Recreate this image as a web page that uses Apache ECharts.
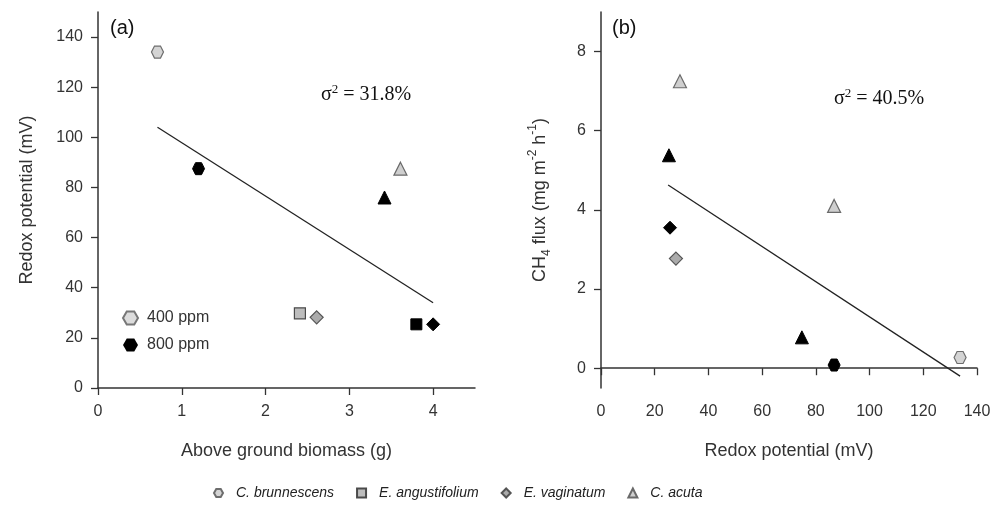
<!DOCTYPE html>
<html>
<head>
<meta charset="utf-8">
<script src="https://cdn.jsdelivr.net/npm/echarts@6/dist/echarts.min.js"></script>
<style>
  html, body { margin: 0; padding: 0; background: #fff; }
</style>
</head>
<body>
<div id="chart" style="width:1007px;height:520px;"></div>
<script>
// species names (bottom legend)
const species = ['C. brunnescens', 'E. angustifolium', 'E. vaginatum', 'C. acuta']

// panel (a): [above ground biomass (g), redox potential (mV), CO2 ppm]
const aBrunnescens = [[0.71, 134, 400], [1.2, 87.5, 800]]
const aAngustifolium = [[2.41, 29.8, 400], [3.8, 25.4, 800]]
const aVaginatum = [[2.61, 28.2, 400], [4.0, 25.4, 800]]
const aAcuta = [[3.61, 87.5, 400], [3.42, 76, 800]]
const aFit = [[0.71, 104], [4.0, 34]]

// panel (b): [redox potential (mV), CH4 flux, CO2 ppm]
const bBrunnescens = [[133.7, 0.27, 400], [86.8, 0.08, 800]]
const bVaginatum = [[27.9, 2.77, 400], [25.7, 3.55, 800]]
const bAcuta = [[29.4, 7.25, 400], [86.8, 4.1, 400], [25.3, 5.38, 800], [74.8, 0.78, 800]]
const bFit = [[25, 4.63], [133.7, -0.2]]

// tick labels
const aXTicks = [0, 1, 2, 3, 4]
const aYTicks = [0, 20, 40, 60, 80, 100, 120, 140]
const bXTicks = [0, 20, 40, 60, 80, 100, 120, 140]
const bYTicks = [0, 2, 4, 6, 8]

const hexagon = 'path://M-0.5,-0.866 L0.5,-0.866 L1,0 L0.5,0.866 L-0.5,0.866 L-1,0 Z'
const symbols = [hexagon, 'rect', 'diamond', 'triangle']
const sizes = [12, 11, 13, 13]
const grayFill = ['#d4d4d4', '#bdbdbd', '#ababab', '#cfcfcf']
const grayEdge = ['#6d6d6d', '#4a4a4a', '#555555', '#6a6a6a']

function points (rows, k) {
  return rows.map(r => ({
    value: [r[0], r[1]],
    itemStyle: r[2] === 400
      ? { color: grayFill[k], borderColor: grayEdge[k], borderWidth: 1.2, opacity: 1 }
      : { color: '#000', borderColor: '#000', borderWidth: 1, opacity: 1 }
  }))
}

function scatter (name, rows, k, idx) {
  return {
    name: name,
    type: 'scatter',
    xAxisIndex: idx,
    yAxisIndex: idx,
    symbol: symbols[k],
    symbolSize: sizes[k],
    itemStyle: { color: grayFill[k], borderColor: grayEdge[k], borderWidth: 1.2, opacity: 1 },
    data: points(rows, k),
    z: 3
  }
}

function fitLine (rows, idx) {
  return {
    type: 'line',
    xAxisIndex: idx,
    yAxisIndex: idx,
    showSymbol: false,
    silent: true,
    lineStyle: { color: '#222', width: 1.3 },
    data: rows
  }
}

const axisLine = { show: true, lineStyle: { color: '#333', width: 1.5 } }
const axisTickX = { show: true, length: 7, lineStyle: { color: '#333', width: 1.3 } }
const labelStyle = { color: '#333', fontSize: 16, fontFamily: 'Liberation Sans' }
const nameStyle = { color: '#333', fontSize: 18, fontFamily: 'Liberation Sans' }

function xAxis (idx, max, ticks, name) {
  return {
    type: 'value', gridIndex: idx, min: 0, max: max,
    axisLine: axisLine,
    axisTick: Object.assign({ customValues: ticks }, axisTickX),
    axisLabel: Object.assign({ customValues: ticks, margin: 16 }, labelStyle),
    splitLine: { show: false },
    name: name, nameLocation: 'middle', nameGap: 54, nameTextStyle: nameStyle
  }
}

function yAxis (idx, min, max, ticks, name, gap, rich) {
  return {
    type: 'value', gridIndex: idx, min: min, max: max,
    axisLine: axisLine,
    axisTick: Object.assign({ customValues: ticks }, axisTickX),
    axisLabel: Object.assign({ customValues: ticks, margin: 15 }, labelStyle),
    splitLine: { show: false },
    name: name, nameLocation: 'middle', nameRotate: 90, nameGap: gap,
    nameTextStyle: Object.assign({ rich: rich || {} }, nameStyle)
  }
}

const richName = {
  sub: { fontSize: 12, fontFamily: 'Liberation Sans', color: '#333', verticalAlign: 'bottom', lineHeight: 26 },
  sup: { fontSize: 12, fontFamily: 'Liberation Sans', color: '#333', verticalAlign: 'top', lineHeight: 26 },
  n: { fontSize: 18, fontFamily: 'Liberation Sans', color: '#333', lineHeight: 26 }
}

const ppmSeries = [
  { name: '400 ppm', type: 'scatter', symbol: hexagon, itemStyle: { color: '#dcdcdc', borderColor: '#777', borderWidth: 1.5, opacity: 1 }, data: [] },
  { name: '800 ppm', type: 'scatter', symbol: hexagon, itemStyle: { color: '#000', borderColor: '#000', opacity: 1 }, data: [] }
]

const sigmaRich = { s: { fontSize: 13, verticalAlign: 'top', lineHeight: 24, fontFamily: 'Liberation Serif', fill: '#111' } }

const chart = echarts.init(document.getElementById('chart'))
chart.setOption({
  backgroundColor: '#fff',
  animation: false,
  grid: [
    { left: 98, top: 12, width: 377, height: 376 },
    { left: 601, top: 12, width: 376, height: 376 }
  ],
  xAxis: [
    xAxis(0, 4.5, aXTicks, 'Above ground biomass (g)'),
    xAxis(1, 140, bXTicks, 'Redox potential (mV)')
  ],
  yAxis: [
    yAxis(0, 0, 150, aYTicks, 'Redox potential (mV)', 62),
    yAxis(1, -0.5, 9, bYTicks, '{n|CH}{sub|4}{n| flux (mg m}{sup|-2}{n| h}{sup|-1}{n|)}', 48, richName)
  ],
  legend: [
    {
      data: species,
      left: 208, top: 481,
      itemWidth: 9, itemHeight: 9, itemGap: 22,
      textStyle: { fontSize: 14, fontStyle: 'italic', color: '#222', fontFamily: 'Liberation Sans', padding: [0, 0, 0, 8] },
      selectedMode: false
    },
    {
      data: ['400 ppm', '800 ppm'],
      orient: 'vertical',
      left: 117, top: 305,
      itemWidth: 15, itemHeight: 15, itemGap: 11,
      textStyle: { fontSize: 16, color: '#333', fontFamily: 'Liberation Sans', padding: [0, 0, 0, 4] },
      selectedMode: false
    }
  ],
  graphic: [
    { type: 'text', left: 110, top: 18, style: { text: '(a)', fontSize: 20, fill: '#111', fontFamily: 'Liberation Sans' } },
    { type: 'text', left: 612, top: 18, style: { text: '(b)', fontSize: 20, fill: '#111', fontFamily: 'Liberation Sans' } },
    {
      type: 'text', left: 321, top: 83,
      style: { text: 'σ{s|2} = 31.8%', fontSize: 20, lineHeight: 24, fill: '#111', fontFamily: 'Liberation Serif', rich: sigmaRich }
    },
    {
      type: 'text', left: 834, top: 87,
      style: { text: 'σ{s|2} = 40.5%', fontSize: 20, lineHeight: 24, fill: '#111', fontFamily: 'Liberation Serif', rich: sigmaRich }
    }
  ],
  series: [
    scatter(species[0], aBrunnescens, 0, 0),
    scatter(species[1], aAngustifolium, 1, 0),
    scatter(species[2], aVaginatum, 2, 0),
    scatter(species[3], aAcuta, 3, 0),
    fitLine(aFit, 0),
    scatter(species[0], bBrunnescens, 0, 1),
    scatter(species[2], bVaginatum, 2, 1),
    scatter(species[3], bAcuta, 3, 1),
    fitLine(bFit, 1)
  ].concat(ppmSeries)
})
</script>
</body>
</html>
